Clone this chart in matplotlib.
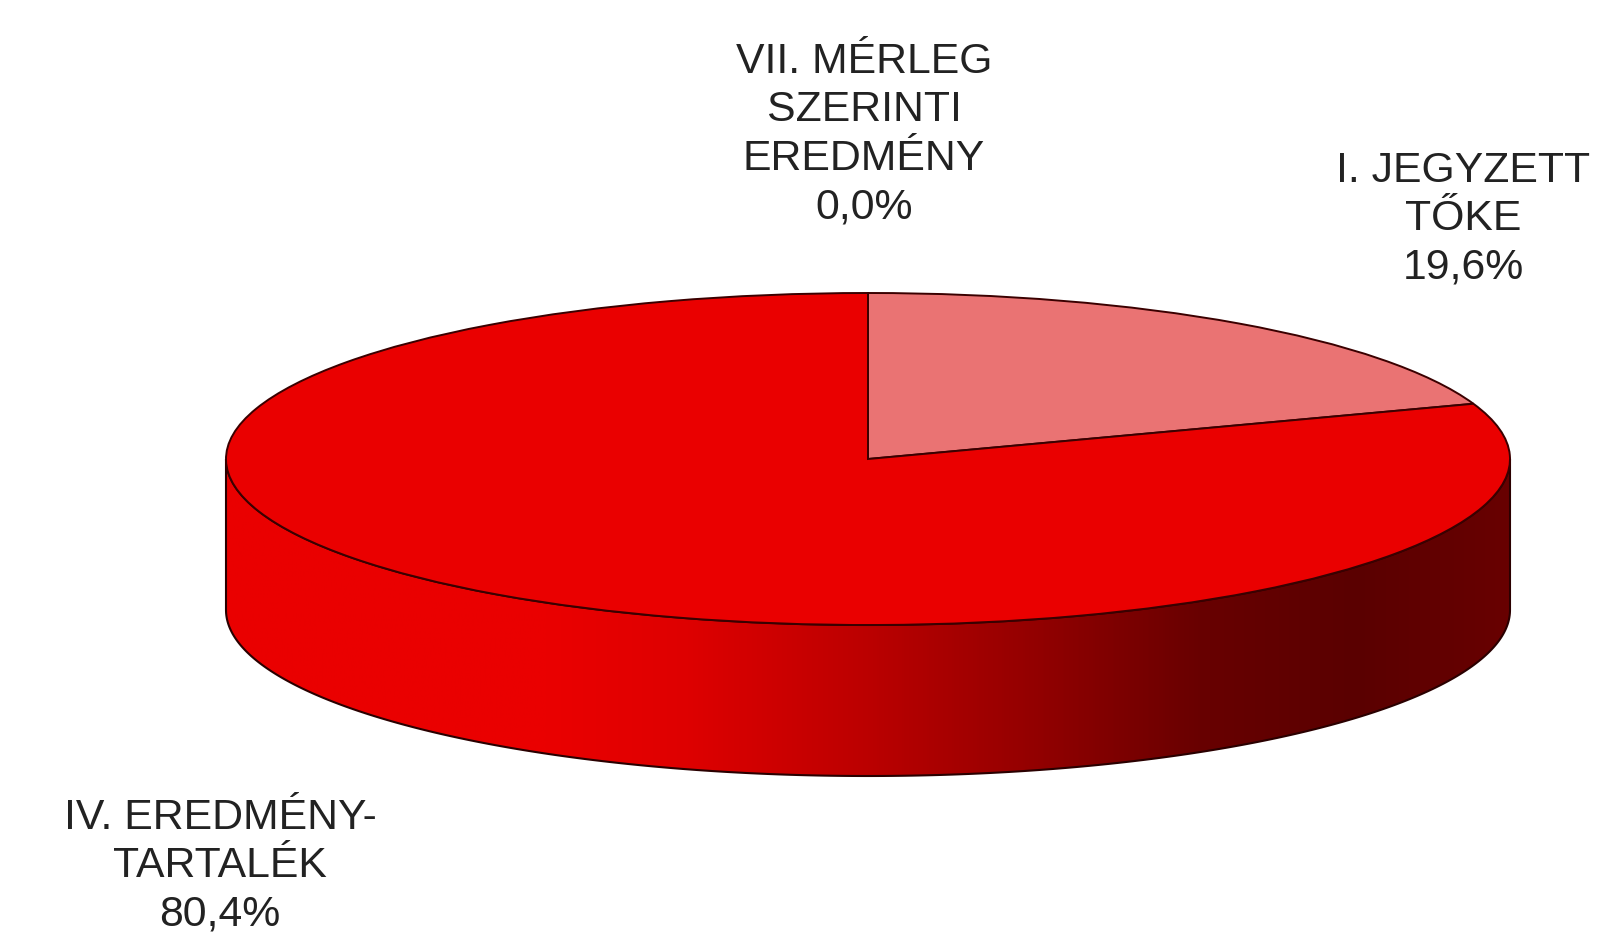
import numpy as np
import matplotlib
matplotlib.use("Agg")
import matplotlib.pyplot as plt
from matplotlib.colors import LinearSegmentedColormap
from matplotlib.patches import Polygon

plt.rcParams['font.family'] = ['Liberation Sans', 'DejaVu Sans']

# data
labels = ['I. JEGYZETT\nTŐKE', 'IV. EREDMÉNY-\nTARTALÉK', 'VII. MÉRLEG\nSZERINTI\nEREDMÉNY']
values = [19.6, 80.4, 0.0]
colors = ['#ea7373', '#ea0000', '#ea0000']
value_labels = ['19,6%', '80,4%', '0,0%']

# gradient of the pie wall, left to right
wall_stops = [0.0, 0.25, 0.36, 0.5, 0.63, 0.76, 0.88, 1.0]
wall_colors = ['#ea0000', '#ea0000', '#de0000', '#bb0000', '#930000', '#680000', '#5a0000', '#680000']

# layout in pixels
W, H = 1599, 932
cx, cy = 868, 459
rx, ry = 642, 166
depth = 151 / ry

fig = plt.figure(figsize=(W / 100, H / 100), dpi=100, facecolor='white')
ax = fig.add_axes([0, 0, 1, 1])

# top of the pie, axes scaled so the unit circle becomes the ellipse
wedges, _ = ax.pie(values, colors=colors, startangle=90, counterclock=False,
                   wedgeprops={'edgecolor': '#3a0000', 'linewidth': 1.4, 'zorder': 3})
ax.set_aspect('auto')
ax.set_xlim(-cx / rx, (W - cx) / rx)
ax.set_ylim(-(H - cy) / ry, cy / ry)
ax.axis('off')

# side wall
t = np.linspace(np.pi, 2 * np.pi, 300)
xs = np.cos(t)
ys = np.sin(t)
outline = np.concatenate([np.column_stack([xs, ys]),
                          np.column_stack([xs[::-1], ys[::-1] - depth])])
wall = Polygon(outline, closed=True, facecolor='none', edgecolor='#2a0000', linewidth=1.5, zorder=2)
ax.add_patch(wall)
cmap = LinearSegmentedColormap.from_list('wall', list(zip(wall_stops, wall_colors)))
im = ax.imshow(np.linspace(0, 1, 512).reshape(1, -1), cmap=cmap, aspect='auto',
               extent=(-1, 1, -1 - depth, 0), zorder=1)
im.set_clip_path(wall)
ax.set_xlim(-cx / rx, (W - cx) / rx)
ax.set_ylim(-(H - cy) / ry, cy / ry)

# labels, centre x and first line y in pixels
label_pos = [(1463, 151), (220, 798), (864, 42)]
for lab, val, (px, py) in zip(labels, value_labels, label_pos):
    fig.text(px / W, 1 - py / H, lab + '\n' + val, ha='center', va='top', fontsize=30.8,
             color='#222222', linespacing=1.27)

fig.savefig('out.png', dpi=100)
